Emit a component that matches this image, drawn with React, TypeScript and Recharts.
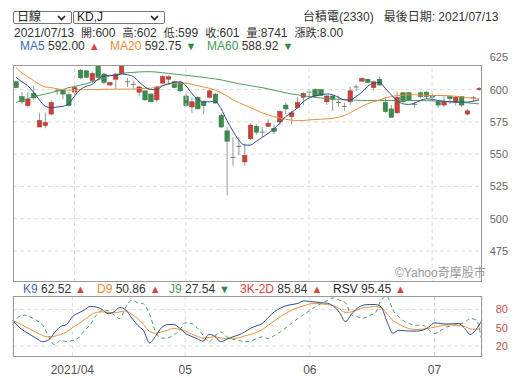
import React from "react";
import { ComposedChart, Bar, Line, XAxis, YAxis, CartesianGrid, ReferenceLine } from "recharts";

const dates = [
  "2021/03/18", "2021/03/19", "2021/03/22", "2021/03/23", "2021/03/24", "2021/03/25", "2021/03/26", "2021/03/29", "2021/03/30", "2021/03/31",
  "2021/04/01", "2021/04/06", "2021/04/07", "2021/04/08", "2021/04/09", "2021/04/12", "2021/04/13", "2021/04/14", "2021/04/15", "2021/04/16",
  "2021/04/19", "2021/04/20", "2021/04/21", "2021/04/22", "2021/04/23", "2021/04/26", "2021/04/27", "2021/04/28", "2021/04/29",
  "2021/05/03", "2021/05/04", "2021/05/05", "2021/05/06", "2021/05/07", "2021/05/10", "2021/05/11", "2021/05/12", "2021/05/13", "2021/05/14",
  "2021/05/17", "2021/05/18", "2021/05/19", "2021/05/20", "2021/05/21", "2021/05/24", "2021/05/25", "2021/05/26", "2021/05/27", "2021/05/28", "2021/05/31",
  "2021/06/01", "2021/06/02", "2021/06/03", "2021/06/04", "2021/06/07", "2021/06/08", "2021/06/09", "2021/06/10", "2021/06/11", "2021/06/15",
  "2021/06/16", "2021/06/17", "2021/06/18", "2021/06/21", "2021/06/22", "2021/06/23", "2021/06/24", "2021/06/25", "2021/06/28", "2021/06/29", "2021/06/30",
  "2021/07/01", "2021/07/02", "2021/07/05", "2021/07/06", "2021/07/07", "2021/07/08", "2021/07/09", "2021/07/12", "2021/07/13",
];

const opens = [
  606, 594.5, 587.5, 597, 571, 572, 581, 599, 599.5, 596,
  598, 615, 614.5, 607, 618, 612, 603.5, 608, 612.5, 606,
  604, 598, 599, 596.5, 592, 605, 608, 606, 605.5,
  595, 586.5, 594, 590.5, 594, 596.5, 580, 568, 547.5, 555.5,
  544, 562, 571.5, 567, 571.5, 570, 575, 588, 579, 586, 594,
  598, 600, 600, 590.5, 595, 590, 587, 590.5, 602, 606.5,
  608, 601.5, 608, 590, 585, 582, 597.5, 597.5, 588.5, 597.5, 598,
  595.5, 590.5, 588, 594.5, 590, 594.5, 581, 593.5, 600,
];
const highs = [
  607, 598, 598, 603, 582, 582, 592, 601, 600, 598,
  603, 616, 615, 614, 619, 613, 606, 613, 619, 609,
  607, 603, 599.5, 597, 603, 611, 611, 607, 607,
  597, 594, 595, 591.5, 600, 597.5, 581.5, 571, 563, 563,
  558, 574, 573, 571, 577, 573, 584, 590, 583.5, 594, 598,
  600.5, 601, 600.5, 596, 596, 595.5, 590, 602, 604, 609.5,
  608.5, 607, 610, 594, 588, 598, 598, 598, 591, 598.5, 599,
  597, 592, 595, 595, 595, 595, 585, 595, 602,
];
const lows = [
  601, 588.5, 586, 592, 571, 570, 580, 596, 592.5, 587,
  596, 608, 609, 605, 609, 604, 603, 600.5, 612, 602,
  601, 595, 591, 590, 590, 604, 604, 601, 598,
  586.5, 582, 585, 581, 593, 589, 570, 518, 541, 549,
  541, 561, 565, 563.5, 571, 565.5, 572.5, 581, 573, 585, 588,
  593.5, 594, 595, 588, 583.5, 586.5, 583.5, 588, 599, 606,
  605, 599, 603, 582, 578, 581, 590, 591, 586, 593, 593,
  591, 586, 586.5, 589, 587.5, 586.5, 580, 590.5, 599,
];
const closes = [
  601.5, 590.5, 592.5, 593.5, 576, 574.5, 590, 599, 596.5, 587.5,
  601.5, 609, 609.5, 612.5, 609.5, 605.5, 605.5, 612, 619, 606,
  603.5, 602, 592, 590.5, 602, 610, 610, 601.5, 599,
  587.5, 590.5, 585, 587.5, 599, 589.5, 571, 560, 547, 556,
  549, 572.5, 567, 567, 574, 567.5, 583, 585, 582, 590, 597,
  598, 595, 595.5, 595, 592.5, 590, 586.5, 599, 602, 608.5,
  605.5, 606, 603.5, 583, 578.5, 594, 590.5, 591.5, 588.5, 594.5, 594.5,
  594, 588, 590.5, 593, 594, 588, 583.5, 593, 601,
];

const ma5 = [
  609.5, 606, 603, 598, 592, 587, 586, 586.5, 587, 589,
  595, 600, 602.5, 604, 608, 610.5, 611, 611, 612, 611.5,
  610, 606, 602, 600, 600, 603, 604.5, 605.5, 606,
  603, 597, 592.5, 590.5, 590.5, 591, 585, 576, 568, 561,
  557, 557, 560, 563, 566, 569.5, 574, 579, 582, 586, 590.5,
  593.5, 595, 596, 596.5, 596, 594, 592, 592, 594.5, 598,
  602.5, 605, 605.5, 601, 596, 591.5, 589, 588.5, 589.5, 591.5, 592.8,
  592.5, 591.5, 591, 590.5, 590.5, 590.3, 590.3, 591, 592,
];
const ma20 = [
  617, 613, 610, 607, 604, 602, 601.5, 600.5, 600, 599.5,
  599.5, 599.8, 600, 600, 600, 600.2, 600.2, 600.3, 600.3, 600.3,
  600.4, 600.6, 600.8, 601, 602, 603, 604, 604.7, 605,
  605, 604, 603, 602, 601, 599.5, 597.5, 595, 592, 590,
  588, 586, 584, 582, 580.5, 579, 578, 577, 576.3, 576, 576,
  576.5, 576.8, 577, 577.3, 577.7, 578.5, 579.8, 582, 584.5, 587,
  589, 590.5, 592, 593.5, 594.5, 595.3, 595.7, 596, 596, 595.8, 595.5,
  595.4, 595.4, 595.4, 595.2, 594.8, 594.3, 593.8, 593.3, 592.75,
];
const ma60 = [
  590, 591.5, 593, 594.5, 595.5, 596.5, 597.5, 599, 600, 601.5,
  602.3, 603.5, 604.5, 606, 607.5, 609, 610.5, 611.5, 612.5, 613,
  613.3, 613.6, 613.8, 613.8, 613.5, 613, 612.5, 612, 611.5,
  611, 610.5, 610, 609.5, 608.8, 608.2, 607.5, 606.5, 605.5, 604.5,
  603.8, 603, 602.2, 601.5, 600.5, 599.5, 598.5, 597.5, 596.5, 596, 595.2,
  594.6, 594, 593.5, 593, 592.8, 592.5, 592.2, 592, 591.8, 591.6,
  591.5, 591.5, 591.5, 591.5, 591.5, 591.5, 591.5, 591.5, 591.5, 591.5, 591.4,
  591.2, 591, 590.8, 590.6, 590.3, 590, 589.7, 589.3, 588.92,
];

const k9 = [
  62, 51, 44, 38, 32, 27, 30, 42, 52, 55,
  68, 74, 79, 85, 84, 80, 73, 76, 83, 79,
  66, 54, 45, 25, 36, 50, 55, 55.5, 50,
  41, 36, 32, 28, 39, 36, 27, 31, 35, 38,
  43, 49, 53, 57, 67, 76, 82, 86, 88, 90, 94,
  93, 92, 91, 90, 85, 75, 60, 72, 82, 87,
  88, 88, 84, 60, 41, 46, 45, 44.5, 44.5, 46, 51,
  58, 57, 56, 56.5, 57, 50, 39, 47, 62.52,
];
const d9 = [
  62, 57, 52, 47, 42, 37, 35, 36, 39, 43,
  50, 56, 63, 70, 75, 76, 75, 74.5, 76, 77.5,
  72, 65, 55, 44, 41, 43, 46, 49, 47.5,
  45, 40, 36, 33, 34, 35, 33, 32.5, 32.5, 33.5,
  36.5, 39, 42, 47, 54, 61, 68, 74, 79, 83, 86,
  89, 90, 89, 88, 86, 81, 75, 76, 79, 83,
  84, 84.5, 83, 73, 62, 56, 51, 48, 47, 47.5, 48.9,
  51, 53, 54.5, 54.5, 53.5, 52.5, 48, 47.5, 50.86,
];
const j9 = [
  55, 68, 70.5, 67, 62, 54, 36, 22, 29, 27.5,
  29, 33, 45, 55, 70, 78, 78, 71, 65, 84,
  95, 91, 89, 72, 44, 33, 33, 38, 45,
  58, 57, 50, 38, 27, 36, 43, 35, 31, 29.5,
  27, 28, 32, 35, 32.5, 37, 43, 50, 58, 65, 72,
  78, 85, 90, 95, 99, 95, 91, 71, 68, 65.5,
  70, 74, 95, 101, 79, 68, 60, 56, 54, 54, 47,
  40.5, 45, 51, 53, 56, 58, 65, 63, 27.54,
];

const monthTicks = ["2021/04/01", "2021/05/03", "2021/06/01", "2021/07/01"];
const monthLabels = ["2021/04", "05", "06", "07"];
const priceTicks = [475, 500, 525, 550, 575, 600, 625];
const priceGrid = [475, 500, 525, 550, 575, 600];
const kdTicks = [20, 50, 80];

const RED = "#c8423a";
const GREEN = "#3d8c4f";
const FONT = "'Liberation Sans', Arial, 'Noto Sans CJK TC', sans-serif";

const rows = dates.map((d, i) => ({
  date: d,
  range: [lows[i], highs[i]],
  open: opens[i],
  high: highs[i],
  low: lows[i],
  close: closes[i],
  ma5: ma5[i],
  ma20: ma20[i],
  ma60: ma60[i],
  k: k9[i],
  d: d9[i],
  j: j9[i],
}));

const Candle = (props: any) => {
  const { x, y, width, height, payload } = props;
  if (x == null || y == null || !payload) return null;
  const top = Math.min(y, y + height);
  const h = Math.abs(height);
  const { open, close, high, low } = payload;
  const span = high - low || 1;
  const toPx = (v: number) => top + ((high - v) / span) * h;
  const cx = x + width / 2;
  const up = close > open + 0.6;
  const down = close < open - 0.6;
  const bodyTop = toPx(Math.max(open, close));
  const bodyBot = toPx(Math.min(open, close));
  const bw = 4.5;
  return (
    <g>
      <line x1={cx} x2={cx} y1={top} y2={top + h} stroke="#999" strokeWidth={1} />
      {up || down ? (
        <rect
          x={cx - bw / 2}
          y={bodyTop}
          width={bw}
          height={Math.max(1, bodyBot - bodyTop)}
          fill={up ? RED : GREEN}
          stroke={up ? "#a83530" : "#2f7340"}
          strokeWidth={0.5}
        />
      ) : (
        <line x1={cx - 2.5} x2={cx + 2.5} y1={bodyTop} y2={bodyTop} stroke="#777" strokeWidth={1} />
      )}
    </g>
  );
};

const PriceTick = ({ x, y, payload }: any) => (
  <text x={x + 18} y={y} dy={4} textAnchor="end" fill="#666" fontSize={11} fontFamily={FONT}>
    {payload.value}
  </text>
);

const KdTick = ({ x, y, payload }: any) => (
  <text x={x + 18} y={y} dy={4} textAnchor="end" fill="#c0504d" fontSize={11} fontFamily={FONT}>
    {payload.value}
  </text>
);

const Up = () => <span style={{ color: "#d9443c", fontSize: 11, marginLeft: 4 }}>▲</span>;
const Down = () => <span style={{ color: "#2e8b46", fontSize: 11, marginLeft: 4 }}>▼</span>;
const Cjk = ({ children }: { children: React.ReactNode }) => <span style={{ fontSize: 11 }}>{children}</span>;

const Select = ({ left, width, label }: { left: number; width: number; label: string }) => (
  <div
    style={{
      position: "absolute",
      left,
      top: 11,
      width,
      height: 13,
      border: "1px solid #777",
      borderRadius: 2,
      boxSizing: "border-box",
      fontSize: 12,
      lineHeight: "11px",
      paddingLeft: 3,
      color: "#222",
    }}
  >
    {label}
    <svg width={9} height={6} style={{ position: "absolute", right: 5, top: 3 }}>
      <polyline points="1,1 4.5,4.5 8,1" fill="none" stroke="#222" strokeWidth={1.6} />
    </svg>
  </div>
);

const App: React.FC = () => {
  return (
    <div style={{ position: "absolute", left: 0, top: 0, width: 519, height: 378, background: "#fff", fontFamily: FONT, color: "#333" }}>
      <div style={{ position: "absolute", left: 0, top: 0 }}>
        <ComposedChart width={519} height={290} data={rows} margin={{ top: 65, right: 0, bottom: 8, left: 13 }}>
          <CartesianGrid stroke="#ddd" strokeDasharray="4 3" vertical={false} horizontalValues={priceGrid} />
          <XAxis dataKey="date" hide />
          <YAxis
            orientation="right"
            width={37}
            domain={[451, 619]}
            allowDataOverflow
            ticks={priceTicks}
            interval={0}
            tick={<PriceTick />}
            axisLine={false}
            tickLine={false}
          />
          {monthTicks.map((t) => (
            <ReferenceLine key={t} x={t} stroke="#ddd" strokeDasharray="4 3" />
          ))}
          <Bar dataKey="range" shape={Candle} isAnimationActive={false} />
          <Line type="monotone" dataKey="ma60" stroke="#4f9a60" strokeWidth={1} dot={false} isAnimationActive={false} />
          <Line type="monotone" dataKey="ma20" stroke="#e8903c" strokeWidth={1} dot={false} isAnimationActive={false} />
          <Line type="monotone" dataKey="ma5" stroke="#2c4f8c" strokeWidth={1} dot={false} isAnimationActive={false} />
        </ComposedChart>
      </div>
      <div style={{ position: "absolute", left: 13, top: 65, width: 469, height: 217, border: "1px solid #999", boxSizing: "border-box" }} />

      <div style={{ position: "absolute", left: 0, top: 280 }}>
        <ComposedChart width={519} height={98} data={rows} margin={{ top: 16, right: 0, bottom: 0, left: 13 }}>
          <CartesianGrid stroke="#ddd" strokeDasharray="4 3" horizontalValues={[20, 80]} />
          <XAxis
            dataKey="date"
            ticks={monthTicks}
            interval={0}
            height={21}
            axisLine={false}
            tickLine={false}
            tick={{ fill: "#555", fontSize: 12, fontFamily: FONT }}
            tickFormatter={(v: string) => monthLabels[monthTicks.indexOf(v)]}
          />
          <YAxis
            orientation="right"
            width={37}
            domain={[2, 102]}
            allowDataOverflow
            ticks={kdTicks}
            interval={0}
            tick={<KdTick />}
            axisLine={false}
            tickLine={false}
          />
          <Line type="monotone" dataKey="j" stroke="#4f9a60" strokeWidth={1} strokeDasharray="4 3" dot={false} isAnimationActive={false} />
          <Line type="monotone" dataKey="d" stroke="#e8903c" strokeWidth={1} dot={false} isAnimationActive={false} />
          <Line type="monotone" dataKey="k" stroke="#2c4f8c" strokeWidth={1} dot={false} isAnimationActive={false} />
        </ComposedChart>
      </div>
      <div style={{ position: "absolute", left: 13, top: 296, width: 469, height: 61, border: "1px solid #999", boxSizing: "border-box" }} />

      <Select left={13} width={59} label="日線" />
      <Select left={73} width={92} label="KD,J" />

      <div style={{ position: "absolute", left: 303, top: 10, fontSize: 12, lineHeight: "14px", whiteSpace: "nowrap" }}>
        台積電(2330)<span style={{ marginLeft: 10 }}>最後日期: 2021/07/13</span>
      </div>

      <div style={{ position: "absolute", left: 14, top: 26, fontSize: 12, lineHeight: "14px", whiteSpace: "nowrap" }}>
        <span style={{ marginRight: 7 }}>2021/07/13</span>
        <span style={{ marginRight: 7 }}><Cjk>開</Cjk>:600</span>
        <span style={{ marginRight: 7 }}><Cjk>高</Cjk>:602</span>
        <span style={{ marginRight: 7 }}><Cjk>低</Cjk>:599</span>
        <span style={{ marginRight: 7 }}><Cjk>收</Cjk>:601</span>
        <span style={{ marginRight: 7 }}><Cjk>量</Cjk>:8741</span>
        <span><Cjk>漲跌</Cjk>:8.00</span>
      </div>

      <div style={{ position: "absolute", top: 39, left: 0, fontSize: 12, lineHeight: "14px", whiteSpace: "nowrap" }}>
        <span style={{ position: "absolute", left: 20 }}>
          <span style={{ color: "#3a6cb0" }}>MA5</span> 592.00<Up />
        </span>
        <span style={{ position: "absolute", left: 110 }}>
          <span style={{ color: "#e8893a" }}>MA20</span> 592.75<Down />
        </span>
        <span style={{ position: "absolute", left: 207 }}>
          <span style={{ color: "#3f9a55" }}>MA60</span> 588.92<Down />
        </span>
      </div>

      <div style={{ position: "absolute", left: 395, top: 266, fontSize: 12, lineHeight: "14px", color: "#999", whiteSpace: "nowrap" }}>
        ©Yahoo奇摩股市
      </div>

      <div style={{ position: "absolute", top: 282, left: 0, fontSize: 12, lineHeight: "14px", whiteSpace: "nowrap" }}>
        <span style={{ position: "absolute", left: 23 }}>
          <span style={{ color: "#3a6cb0" }}>K9</span> 62.52<Up />
        </span>
        <span style={{ position: "absolute", left: 97 }}>
          <span style={{ color: "#e8893a" }}>D9</span> 50.86<Up />
        </span>
        <span style={{ position: "absolute", left: 169 }}>
          <span style={{ color: "#3f9a55" }}>J9</span> 27.54<Down />
        </span>
        <span style={{ position: "absolute", left: 240 }}>
          <span style={{ color: "#d9443c" }}>3K-2D</span> 85.84<Up />
        </span>
        <span style={{ position: "absolute", left: 333 }}>
          <span style={{ color: "#222" }}>RSV</span> 95.45<Up />
        </span>
      </div>
    </div>
  );
};

export default App;
